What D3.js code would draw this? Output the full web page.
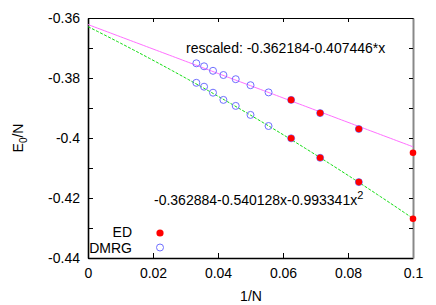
<!DOCTYPE html>
<html>
<head>
<meta charset="utf-8">
<script src="https://cdn.jsdelivr.net/npm/d3@7"></script>
<style>
  body { margin: 0; background: #fff; }
  svg text { font-family: "Liberation Sans", Arial, sans-serif; fill: #000; }
</style>
</head>
<body>
<svg id="chart"></svg>
<script>
// 1/N values
const dmrgX = [1/30, 1/28, 1/26, 1/24, 1/22, 1/20, 1/18, 1/16, 1/14, 1/12];
const dmrgUpper = [-0.3751, -0.3761, -0.3776, -0.3790, -0.3804, -0.3824, -0.3848, -0.3873, -0.3917, -0.3970];
const dmrgLower = [-0.3816, -0.3829, -0.3849, -0.3873, -0.3893, -0.3923, -0.3960, -0.4001, -0.4066, -0.4147];

const edX = [1/16, 1/14, 1/12, 1/10];
const edUpper = [-0.3873, -0.3917, -0.3970, -0.4049];
const edLower = [-0.4001, -0.4066, -0.4147, -0.4269];

// fit coefficients (c0 + c1*x + c2*x^2)
const fitUpper = [-0.362184, -0.407446];
const fitLower = [-0.362884, -0.540128, -0.993341];

const xTicks = [0, 0.02, 0.04, 0.06, 0.08, 0.1];
const yTicks = [-0.44, -0.43, -0.42, -0.41, -0.4, -0.39, -0.38, -0.37, -0.36];
const yLabels = ['-0.44', '', '-0.42', '', '-0.4', '', '-0.38', '', '-0.36'];
const xLabels = ['0', '0.02', '0.04', '0.06', '0.08', '0.1'];

const width = 436, height = 305;
const margin = { top: 18, right: 23, bottom: 47, left: 88 };
const w = width - margin.left - margin.right;
const h = height - margin.top - margin.bottom;

const svg = d3.select('#chart').attr('width', width).attr('height', height);
const chart = svg.append('g').attr('transform', `translate(${margin.left},${margin.top})`);

const xScale = d3.scaleLinear().domain([0, 0.1]).range([0, w]);
const yScale = d3.scaleLinear().domain([-0.44, -0.36]).range([h, 0]);

// axes
const xAxis = d3.axisBottom(xScale).tickValues(xTicks)
    .tickFormat((d, i) => xLabels[i]).tickSizeInner(-5).tickSizeOuter(0).tickPadding(10);
const yAxis = d3.axisLeft(yScale).tickValues(yTicks)
    .tickFormat((d, i) => yLabels[i]).tickSizeInner(-5).tickSizeOuter(0).tickPadding(8);

const xAxisG = chart.append('g').attr('transform', `translate(0,${h})`).call(xAxis);
const yAxisG = chart.append('g').call(yAxis);
[xAxisG, yAxisG].forEach(g => {
    g.selectAll('text').style('font-size', '14px');
    g.select('.domain').attr('stroke-width', 1.6);
});

// mirrored ticks on top and right
const xTop = chart.append('g')
    .call(d3.axisTop(xScale).tickValues(xTicks).tickFormat('').tickSizeInner(-4).tickSizeOuter(0));
xTop.select('.domain').attr('stroke-width', 1.2);
const yRight = chart.append('g').attr('transform', `translate(${w},0)`)
    .call(d3.axisRight(yScale).tickValues(yTicks).tickFormat('').tickSizeInner(-4).tickSizeOuter(0));
yRight.select('.domain').attr('stroke', '#888').attr('stroke-width', 2);

// fit curves
const poly = c => x => c.reduce((s, a, k) => s + a * Math.pow(x, k), 0);
const xs = d3.range(0, 101).map(i => i * 0.001);
const line = f => d3.line().x(x => xScale(x)).y(x => yScale(f(x)));

chart.append('path').datum(xs)
    .attr('d', line(poly(fitUpper)))
    .attr('fill', 'none').attr('stroke', '#ff70ff').attr('stroke-width', 1);
chart.append('path').datum(xs)
    .attr('d', line(poly(fitLower)))
    .attr('fill', 'none').attr('stroke', '#11dd11').attr('stroke-width', 1)
    .attr('stroke-dasharray', '3,1.5');

// DMRG points
[dmrgUpper, dmrgLower].forEach(ys => {
    chart.append('g').selectAll('circle')
        .data(ys).join('circle')
        .attr('cx', (d, i) => xScale(dmrgX[i]))
        .attr('cy', d => yScale(d))
        .attr('r', 3.5)
        .attr('fill', 'none').attr('stroke', '#6f6fff').attr('stroke-width', 1);
});

// ED points (drawn on top, DMRG ring still peeks out)
[edUpper, edLower].forEach(ys => {
    chart.append('g').selectAll('circle')
        .data(ys).join('circle')
        .attr('cx', (d, i) => xScale(edX[i]))
        .attr('cy', d => yScale(d))
        .attr('r', 3.3)
        .attr('fill', '#ff0000');
});

// annotations
svg.append('text').attr('x', 186).attr('y', 53).style('font-size', '14px')
    .text('rescaled: -0.362184-0.407446*x');
const t2 = svg.append('text').attr('x', 154).attr('y', 205).style('font-size', '14px');
t2.append('tspan').text('-0.362884-0.540128x-0.993341x');
t2.append('tspan').attr('dy', -6).style('font-size', '11px').text('2');

// legend
svg.append('text').attr('x', 132).attr('y', 237).attr('text-anchor', 'end').style('font-size', '14px').text('ED');
svg.append('text').attr('x', 132).attr('y', 253).attr('text-anchor', 'end').style('font-size', '14px').text('DMRG');
svg.append('circle').attr('cx', 160).attr('cy', 233).attr('r', 3.6).attr('fill', '#ff0000');
svg.append('circle').attr('cx', 160).attr('cy', 247.5).attr('r', 3.5)
    .attr('fill', 'none').attr('stroke', '#6f6fff').attr('stroke-width', 1);

// axis titles
svg.append('text').attr('x', 251).attr('y', 301).attr('text-anchor', 'middle').style('font-size', '14px').text('1/N');
const yt = svg.append('text').attr('text-anchor', 'middle').style('font-size', '14px')
    .attr('transform', 'translate(23,138) rotate(-90)');
yt.append('tspan').text('E');
yt.append('tspan').attr('dy', 4).style('font-size', '10px').text('0');
yt.append('tspan').attr('dy', -4).text('/N');
</script>
</body>
</html>
